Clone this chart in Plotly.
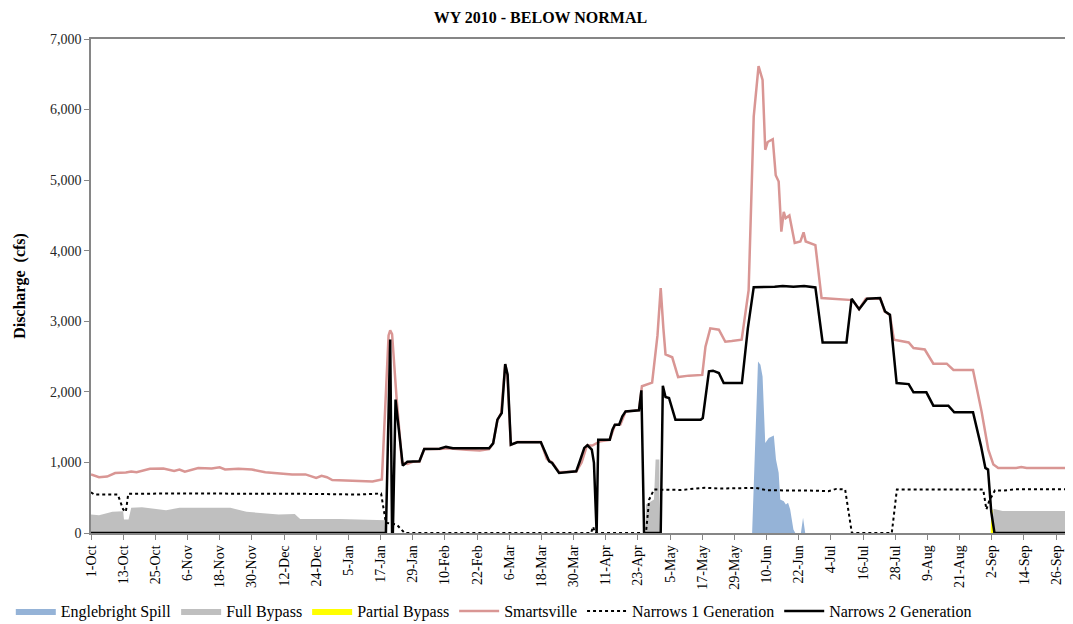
import pandas as pd
import plotly.graph_objects as go

# water year 2010, x values are days counted from 1-Oct-2009
start = pd.Timestamp("2009-10-01")

smarts_days = [0, 3, 6, 9, 13, 15, 17, 22, 27, 31, 33, 35, 40, 45, 48, 50, 55, 60, 65, 70, 75, 80, 82, 84, 86, 88, 90, 95, 100, 105,
               108.5, 111, 111.6, 112.3, 114, 116, 118, 120, 122.5, 124.3, 130, 133, 140, 145, 148.5, 150, 151.6, 153, 154.5, 155.3,
               156.6, 159, 167.8, 170, 172, 174.6, 181, 183, 185, 187, 190, 193.5, 195.4, 197.5, 199.4, 204.4, 205.5, 209.3, 211.3,
               212.5, 213.5, 214.3, 216.8, 219, 223, 228, 229.2, 231, 234.2, 236.6, 239, 242.7, 245.3, 247.2, 249, 250.5, 251.5,
               252.4, 254.3, 255.4, 256.5, 257.5, 258.4, 259.1, 260.5, 262.5, 264.6, 265.8, 266.6, 270.2, 272.5, 282.6, 284, 286.5,
               289, 294.5, 296, 298, 299.5, 305, 306.8, 311, 314.2, 319.2, 321.7, 329, 332.2, 334.7, 336.6, 338.4, 345, 347, 349, 364]
smarts_vals = [830, 790, 800, 850, 856, 870, 860, 910, 915, 880, 900, 870, 920, 915, 930, 900, 910, 900, 860, 840, 830, 830, 810, 780, 810, 790, 750, 745, 730, 730,
               760, 2800, 2870, 2820, 1900, 1000, 980, 1010, 1010, 1190, 1190, 1200, 1180, 1170, 1190, 1270, 1600, 1700, 2390, 2240,
               1250, 1290, 1290, 1050, 1000, 860, 870, 1000, 1240, 1240, 1300, 1320, 1530, 1540, 1720, 1740, 2080, 2130, 2800,
               3470, 2900, 2530, 2490, 2210, 2230, 2240, 2640, 2900, 2880, 2710, 2720, 2740, 3440, 5900, 6615, 6420, 5430,
               5540, 5580, 5070, 4980, 4270, 4550, 4460, 4500, 4110, 4130, 4260, 4130, 4080, 3330, 3310, 3300, 3170,
               3320, 3320, 3140, 3090, 2740, 2700, 2620, 2600, 2400, 2400, 2310, 2310, 1720, 1180, 970, 920, 920, 935, 920, 920]

n2_days = [0, 110, 111.6, 112.3, 112.6, 113.6, 116.3, 118, 122.5, 124.3, 130, 132.4, 135, 148.5, 150, 151.6, 153.2, 154.5, 155.4,
           156.6, 159, 167.8, 170.9, 172, 174.6, 181, 182.2, 184, 185.2, 186.8, 187.6, 188.3, 188.6, 189.2, 193.5, 194.5, 195.4,
           197, 198.2, 199.4, 204.4, 205.3, 206.3, 212.5, 213.3, 214.3, 215.6, 218, 227.4, 228.2, 230.5, 232, 234.2, 236, 242.8,
           245, 247.2, 255, 258, 262, 266, 270.2, 272.9, 281.8, 283.7, 286.5, 289.5, 294.3, 296.2, 298, 300.5, 305, 306.8, 311.6,
           314.2, 319.8, 322, 329, 332, 333.6, 334.6, 335.8, 337, 364]
n2_vals = [0, 0, 2740, 0, 0, 1890, 955, 1010, 1016, 1190, 1195, 1220, 1200, 1200, 1270, 1606, 1700, 2394, 2243,
           1252, 1285, 1285, 1016, 993, 852, 875, 1002, 1206, 1243, 1182, 993, 50, 0, 1323, 1323, 1465, 1535,
           1535, 1653, 1723, 1738, 2021, 0, 0, 2087, 1927, 1913, 1606, 1606, 1630, 2290, 2300, 2267, 2125, 2125,
           2900, 3484, 3490, 3500, 3490, 3500, 3480, 2700, 2700, 3318, 3172, 3320, 3330, 3139, 3092, 2125, 2110, 1993, 1993,
           1804, 1804, 1710, 1710, 1228, 922, 899, 300, 0, 0]

n1_days = [0, 1.2, 10, 12, 13, 13.9, 30, 50, 60, 70, 80, 100, 108.2, 110, 112, 114, 117, 186.5, 187.3, 188, 207, 208.2, 210,
           220, 229, 235, 248, 252, 270, 275, 278, 281.3, 283.8, 298.7, 300.6, 332.8, 334, 335, 337.2, 340, 345, 364]
n1_vals = [578, 545, 545, 333, 300, 555, 560, 560, 555, 560, 555, 545, 560, 144, 130, 120, 0, 0, 90, 0, 0, 474, 616,
           610, 640, 630, 640, 606, 600, 592, 625, 616, 0, 0, 616, 616, 333, 450, 606, 600, 620, 620]

full_days = [0, 3, 8, 12, 12.3, 14, 15, 19, 28, 33, 52, 58, 70, 76, 78, 93, 110, 110.2,
             206.8, 207, 210, 210.6, 212, 212.1, 336.3, 336.6, 340, 364.8]
full_vals = [262, 250, 300, 309, 191, 191, 357, 365, 323, 357, 357, 300, 262, 270, 200, 200, 181, 0,
             0, 403, 474, 1040, 1040, 0, 0, 342, 310, 310]

partial_days = [335.6, 335.8, 336.3, 336.5, 364.0, 364.2, 364.8]
partial_vals = [0, 330, 330, 0, 0, 320, 320]

spill_days = [246.6, 248.8, 249.7, 250.5, 251.5, 252.8, 254.7, 255.5, 256.5, 257.1, 258.4, 259.2, 260, 260.8, 262, 262.7,
              264.8, 265.6, 266.4]
spill_vals = [0, 2431, 2384, 2219, 1276, 1347, 1380, 1040, 852, 474, 450, 403, 427, 333, 50, 0, 0, 215, 0]


def to_dates(days):
    return start + pd.to_timedelta(days, unit="D")


serif = "Liberation Serif, Times New Roman, serif"

fig = go.Figure()
fig.add_trace(go.Scatter(x=to_dates(spill_days), y=spill_vals, name="Englebright Spill", mode="lines",
                         fill="tozeroy", fillcolor="#95B3D7", line=dict(width=0, color="#95B3D7")))
fig.add_trace(go.Scatter(x=to_dates(full_days), y=full_vals, name="Full Bypass", mode="lines",
                         fill="tozeroy", fillcolor="#BFBFBF", line=dict(width=0, color="#BFBFBF")))
fig.add_trace(go.Scatter(x=to_dates(partial_days), y=partial_vals, name="Partial Bypass", mode="lines",
                         fill="tozeroy", fillcolor="#FFFF00", line=dict(width=0, color="#FFFF00")))
fig.add_trace(go.Scatter(x=to_dates(smarts_days), y=smarts_vals, name="Smartsville", mode="lines",
                         line=dict(color="#D99694", width=2.5)))
fig.add_trace(go.Scatter(x=to_dates(n1_days), y=n1_vals, name="Narrows 1 Generation", mode="lines",
                         line=dict(color="black", width=2, dash="dot")))
fig.add_trace(go.Scatter(x=to_dates(n2_days), y=n2_vals, name="Narrows 2 Generation", mode="lines",
                         line=dict(color="black", width=2.5)))

# page body has an 8px margin, so the figure is a bit smaller and margins shifted
fig.update_layout(
    width=1065, height=622,
    margin=dict(l=83, r=2, t=31, b=97),
    paper_bgcolor="white", plot_bgcolor="white",
    font=dict(family=serif, size=14, color="#262626"),
    title=dict(text="<b>WY 2010 - BELOW NORMAL</b>", x=0.5, xanchor="center", y=0.9855,
               yanchor="middle", font=dict(family=serif, size=16, color="black")),
    showlegend=True,
    legend=dict(orientation="h", x=-0.082, xanchor="left", y=-0.158, yanchor="middle",
                font=dict(family=serif, size=16, color="black"), itemwidth=40, tracegroupgap=0),
)
fig.update_xaxes(
    type="date",
    range=[start, start + pd.Timedelta(days=364.8)],
    tick0=start, dtick=12 * 86400000, tickformat="%-d-%b", tickangle=-90,
    ticks="outside", ticklen=5, tickcolor="#868686",
    showline=True, linecolor="#868686", linewidth=1.5, mirror=True,
    showgrid=False, zeroline=False,
    tickfont=dict(family=serif, size=14, color="black"),
)
fig.update_yaxes(
    range=[0, 7000], dtick=1000, tickformat=",",
    ticks="outside", ticklen=5, tickcolor="#868686",
    showline=True, linecolor="#868686", linewidth=1.5, mirror=True,
    showgrid=False, zeroline=False,
    title=dict(text="<b>Discharge  (cfs)</b>", font=dict(family=serif, size=16, color="black"), standoff=20),
    tickfont=dict(family=serif, size=14, color="#262626"),
)

fig.write_html("out.html")
